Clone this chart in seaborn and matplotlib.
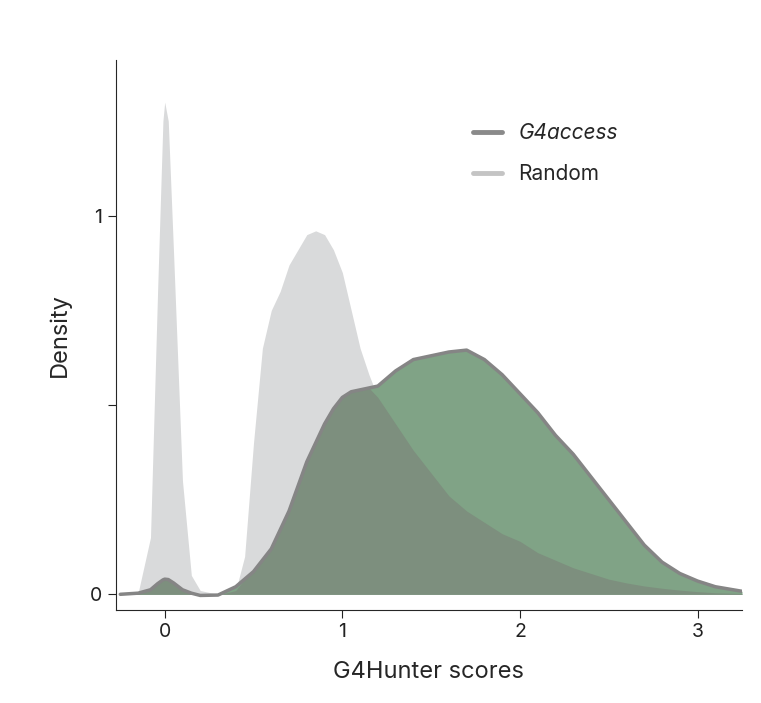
import numpy as np
import matplotlib
matplotlib.use("Agg")
import matplotlib.pyplot as plt
import seaborn as sns

# shared x grid for both density curves
scores = [-0.25, -0.15, -0.08, -0.04, -0.01, 0.0, 0.02, 0.05, 0.1, 0.15, 0.2, 0.3, 0.4, 0.45,
          0.5, 0.55, 0.6, 0.65, 0.7, 0.8, 0.85, 0.9, 0.95, 1.0, 1.05, 1.1, 1.15, 1.2, 1.3, 1.4,
          1.5, 1.6, 1.7, 1.8, 1.9, 2.0, 2.1, 2.2, 2.3, 2.4, 2.5, 2.6, 2.7, 2.8, 2.9, 3.0, 3.1, 3.25]
random_density = [0, 0.003, 0.15, 0.8, 1.25, 1.30, 1.25, 0.9, 0.3, 0.05, 0.01, 0, 0.01, 0.1,
                  0.4, 0.65, 0.75, 0.8, 0.87, 0.95, 0.96, 0.95, 0.91, 0.85, 0.75, 0.65, 0.58, 0.52, 0.45, 0.38,
                  0.32, 0.26, 0.22, 0.19, 0.16, 0.14, 0.11, 0.09, 0.07, 0.055, 0.04, 0.03, 0.022, 0.016, 0.011, 0.007, 0.004, 0.002]
g4_density = [0, 0.003, 0.012, 0.028, 0.038, 0.04, 0.039, 0.03, 0.012, 0.003, -0.003, -0.002, 0.02, 0.04,
              0.06, 0.09, 0.12, 0.17, 0.22, 0.35, 0.40, 0.45, 0.49, 0.52, 0.535, 0.54, 0.545, 0.55, 0.59, 0.62,
              0.63, 0.64, 0.645, 0.62, 0.58, 0.53, 0.48, 0.42, 0.37, 0.31, 0.25, 0.19, 0.13, 0.085, 0.055, 0.035, 0.02, 0.008]

x_ticks = [0, 1, 2, 3]
y_ticks = [0, 0.5, 1]
y_tick_labels = ["0", "", "1"]

sns.set_style("ticks")
plt.rcParams['font.family'] = ['Inter', 'DejaVu Sans']

fig = plt.figure(figsize=(7.61, 7.03), dpi=100)
ax = fig.add_axes([0.152, 0.132, 0.823, 0.782])

x = np.array(scores)
r = np.array(random_density)
g = np.array(g4_density)

ax.fill_between(x, 0, r, color="#d9dadb", linewidth=0)
ax.fill_between(x, 0, g, color="#80a386", linewidth=0)
ax.fill_between(x, 0, np.minimum(r, g), color="#7d8f7e", linewidth=0)
sns.lineplot(x=x, y=g, ax=ax, color="#858585", linewidth=2.5)

# legend handles
ax.plot([], [], color="#8a8a8a", linewidth=3.5, label="G4access")
ax.plot([], [], color="#c4c4c4", linewidth=3.5, label="Random")
leg = ax.legend(loc="upper left", bbox_to_anchor=(0.54, 0.92), frameon=False,
                fontsize=15, handlelength=1.4, labelspacing=1.0)
leg.get_texts()[0].set_style("italic")

ax.set_xlim(-0.276, 3.25)
ax.set_ylim(-0.042, 1.41)
ax.set_xticks(x_ticks)
ax.set_yticks(y_ticks)
ax.set_yticklabels(y_tick_labels)
ax.tick_params(labelsize=14, colors="#222222", length=6)
ax.set_xlabel("G4Hunter scores", fontsize=17, labelpad=14)
ax.set_ylabel("Density", fontsize=17, labelpad=14)
sns.despine(ax=ax)

fig.savefig("out.png", dpi=100)
